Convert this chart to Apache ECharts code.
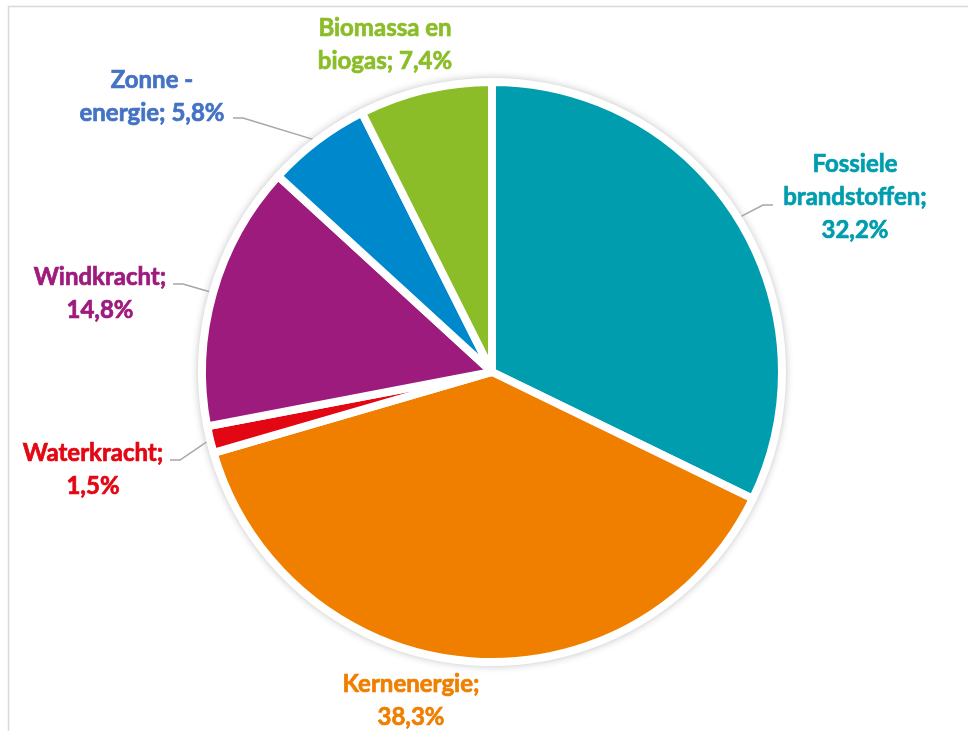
<!DOCTYPE html>
<html>
<head>
<meta charset="utf-8">
<script src="https://cdn.jsdelivr.net/npm/echarts@6/dist/echarts.min.js"></script>
<style>
html,body{margin:0;padding:0;background:#fff;}
#chart{width:968px;height:731px;}
</style>
</head>
<body>
<div id="chart"></div>
<script>
// Data
const categories = ['Fossiele\nbrandstoffen', 'Kernenergie', 'Waterkracht', 'Windkracht', 'Zonne -\nenergie', 'Biomassa en\nbiogas'];
const values = [32.2, 38.3, 1.5, 14.8, 5.8, 7.4];
const labelSeparators = ['\n', '\n', '\n', '\n', ' ', ' '];

// Styling
const sliceColors = ['#009DAE', '#F07F00', '#E30613', '#9E1B7E', '#0088CC', '#8BBD28'];
const labelColors = ['#009DAE', '#F07F00', '#E30613', '#9E1B7E', '#4472C4', '#8BBD28'];
const labelAnchors = [
  {x: 855, y: 197, line: [773, 205]},
  {x: 411, y: 701, line: null},
  {x: 93, y: 470, line: [170, 460]},
  {x: 100, y: 294, line: [173, 284]},
  {x: 152, y: 97, line: [233, 118]},
  {x: 385, y: 45, line: null}
];

const fmt = v => v.toFixed(1).replace('.', ',') + '%';

const chart = echarts.init(document.getElementById('chart'), null, {renderer: 'canvas'});
const center = [492, 372];
const radius = 290;

chart.setOption({
  animation: false,
  graphic: [{
    type: 'rect',
    shape: {x: 8.5, y: 6.5, width: 1000, height: 800},
    style: {fill: 'none', stroke: '#d9d9d9', lineWidth: 1.5},
    silent: true,
    z: -10
  }],
  series: [
    {
      type: 'pie',
      silent: true,
      center: center,
      radius: radius + 3,
      label: {show: false},
      labelLine: {show: false},
      itemStyle: {color: '#ffffff', shadowBlur: 8, shadowColor: 'rgba(0,0,0,0.30)'},
      data: [1],
      z: 1
    },
    {
      type: 'pie',
      center: center,
      radius: radius,
      startAngle: 90,
      clockwise: true,
      z: 2,
      itemStyle: {borderColor: '#ffffff', borderWidth: 8},
      label: {
        show: true,
        position: 'outside',
        fontFamily: 'Lato',
        fontWeight: 'bold',
        fontSize: 24,
        lineHeight: 33,
        align: 'center',
        textBorderWidth: 0.7
      },
      labelLine: {show: true, lineStyle: {color: '#A6A6A6', width: 1.5}},
      labelLayout: function (params) {
        const a = labelAnchors[params.dataIndex];
        const out = {x: a.x, y: a.y, align: 'center', verticalAlign: 'middle'};
        if (a.line && params.labelLinePoints) {
          const p0 = params.labelLinePoints[0];
          const dir = a.line[0] < center[0] ? 1 : -1;
          out.labelLinePoints = [p0, [a.line[0] + dir * 10, a.line[1]], [a.line[0], a.line[1]]];
        }
        return out;
      },
      data: categories.map((name, i) => ({
        name: name,
        value: values[i],
        itemStyle: {color: sliceColors[i]},
        label: {
          color: labelColors[i],
          textBorderColor: labelColors[i],
          formatter: name + ';' + labelSeparators[i] + fmt(values[i])
        },
        labelLine: {show: labelAnchors[i].line !== null}
      }))
    }
  ]
});
</script>
</body>
</html>
